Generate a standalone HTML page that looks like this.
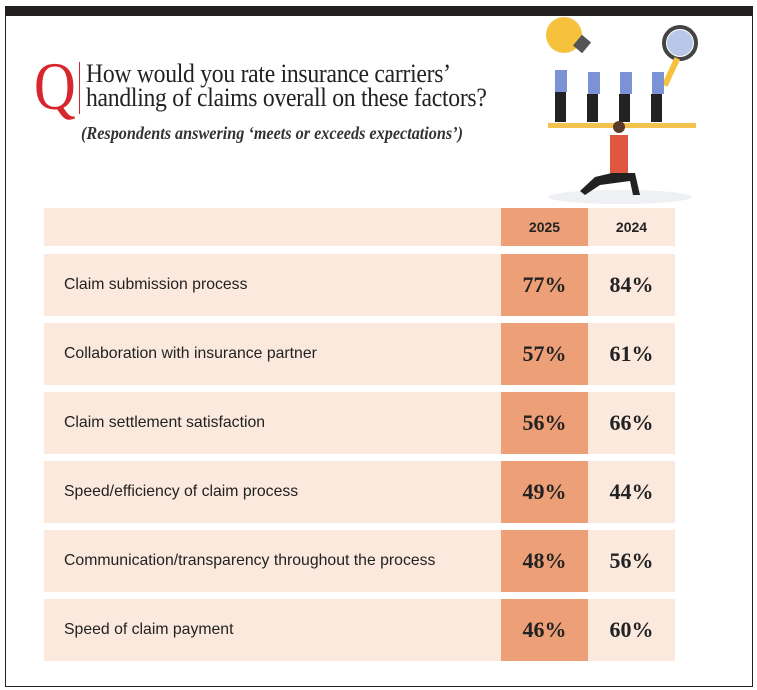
<!DOCTYPE html>
<html><head><style>
body{margin:0;width:757px;height:690px;background:#fff;position:relative;overflow:hidden;font-family:"Liberation Sans",sans-serif}
.frame{position:absolute;left:5px;top:6px;width:746px;height:680px;border:1px solid #222;border-top:none}
.bar{position:absolute;left:5px;top:6px;width:748px;height:10px;background:#231f20}
.q{position:absolute;left:34px;top:52px;font-family:"Liberation Serif",serif;font-size:68px;color:#d7262e;line-height:1;transform:scaleX(0.85);transform-origin:left}
.ql{position:absolute;left:79px;top:62px;width:1px;height:52px;background:#d7262e}
.t{position:absolute;left:86px;top:62px;font-family:"Liberation Serif",serif;font-size:26px;line-height:24px;color:#222;letter-spacing:-0.3px;transform:scaleX(0.91);transform-origin:left;white-space:nowrap}
.s{position:absolute;left:81px;top:123px;font-family:"Liberation Serif",serif;font-style:italic;font-weight:bold;font-size:18px;color:#333;transform:scaleX(0.9);transform-origin:left;white-space:nowrap}
.row{position:absolute;left:44px;width:631px;background:#fbe9dd}
.c5{position:absolute;left:457px;width:87px;top:0;bottom:0;background:#eda077}
.lab{position:absolute;left:20px;font-size:15.8px;color:#222;white-space:nowrap}
.v{position:absolute;width:87px;text-align:center;font-family:"Liberation Serif",serif;font-weight:bold;font-size:22px;color:#222}
.h{position:absolute;width:87px;text-align:center;font-weight:bold;font-size:14px;color:#222}
</style></head><body>
<div class="bar"></div><div class="frame"></div>
<div class="q">Q</div><div class="ql"></div>
<div class="t">How would you rate insurance carriers’<br>handling of claims overall on these factors?</div>
<div class="s">(Respondents answering ‘meets or exceeds expectations’)</div>
<svg style="position:absolute;left:540px;top:15px" width="160" height="190">
<ellipse cx="80" cy="182" rx="72" ry="7" fill="#eef0f4"/>
<circle cx="24" cy="20" r="18" fill="#f6c23e"/><rect x="36" y="22" width="12" height="14" fill="#555" transform="rotate(40 42 29)"/>
<circle cx="140" cy="28" r="16" fill="none" stroke="#444" stroke-width="4"/><circle cx="140" cy="28" r="13" fill="#b9c8e8"/>
<rect x="128" y="42" width="6" height="30" fill="#f6c23e" transform="rotate(25 131 57)"/>
<g fill="#7b93d4"><rect x="15" y="55" width="12" height="22"/><rect x="48" y="57" width="12" height="22"/><rect x="80" y="57" width="12" height="22"/><rect x="112" y="57" width="12" height="22"/></g>
<g fill="#222"><rect x="15" y="77" width="11" height="30"/><rect x="47" y="79" width="11" height="28"/><rect x="79" y="79" width="11" height="28"/><rect x="111" y="79" width="11" height="28"/></g>
<rect x="8" y="108" width="148" height="5" fill="#f2c14e"/>
<rect x="70" y="120" width="18" height="40" fill="#e0563f"/><circle cx="79" cy="112" r="6" fill="#5a3a2a"/>
<path d="M72 158 L95 158 L100 180 L93 180 L90 166 L60 170 L45 180 L40 176 L55 162Z" fill="#222"/>
</svg>
<div class="row" style="top:208px;height:38px"><div class="c5"></div>
<div class="h" style="left:457px;top:11px">2025</div><div class="h" style="left:544px;top:11px">2024</div></div>

<div class="row" style="top:254px;height:62px"><div class="c5"></div><div class="lab" style="top:22px">Claim submission process</div><div class="v" style="left:457px;top:18px">77%</div><div class="v" style="left:544px;top:18px">84%</div></div>
<div class="row" style="top:323px;height:62px"><div class="c5"></div><div class="lab" style="top:22px">Collaboration with insurance partner</div><div class="v" style="left:457px;top:18px">57%</div><div class="v" style="left:544px;top:18px">61%</div></div>
<div class="row" style="top:392px;height:62px"><div class="c5"></div><div class="lab" style="top:22px">Claim settlement satisfaction</div><div class="v" style="left:457px;top:18px">56%</div><div class="v" style="left:544px;top:18px">66%</div></div>
<div class="row" style="top:461px;height:62px"><div class="c5"></div><div class="lab" style="top:22px">Speed/efficiency of claim process</div><div class="v" style="left:457px;top:18px">49%</div><div class="v" style="left:544px;top:18px">44%</div></div>
<div class="row" style="top:530px;height:62px"><div class="c5"></div><div class="lab" style="top:22px">Communication/transparency throughout the process</div><div class="v" style="left:457px;top:18px">48%</div><div class="v" style="left:544px;top:18px">56%</div></div>
<div class="row" style="top:599px;height:62px"><div class="c5"></div><div class="lab" style="top:22px">Speed of claim payment</div><div class="v" style="left:457px;top:18px">46%</div><div class="v" style="left:544px;top:18px">60%</div></div>
</body></html>
